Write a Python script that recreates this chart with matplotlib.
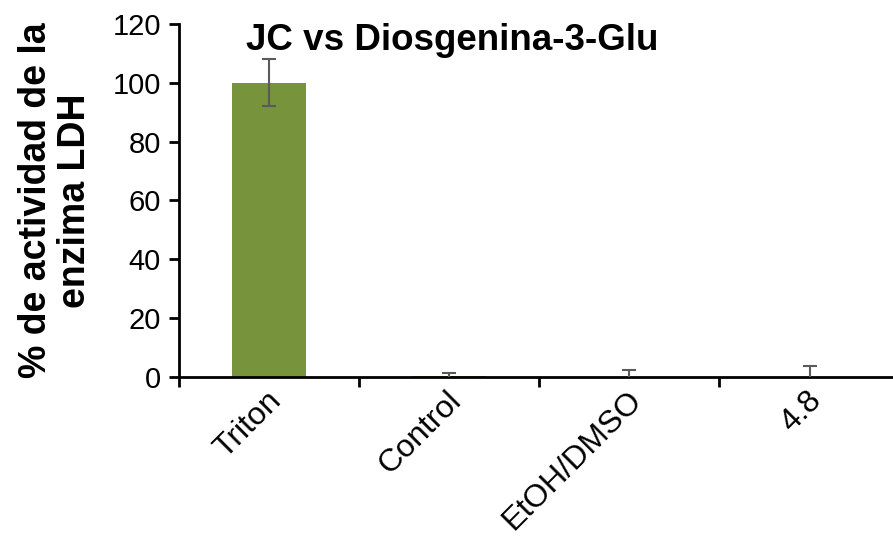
"""LDH activity bar chart: JC vs Diosgenina-3-Glu."""

import matplotlib

matplotlib.use("Agg")
import matplotlib.pyplot as plt  # noqa: E402
import matplotlib.transforms as mtransforms  # noqa: E402
import numpy as np  # noqa: E402

categories = ["Triton", "Control", "EtOH/DMSO", "4.8"]
values = [100.0, 0.2, 0.1, 0.1]
errors = [8.0, 1.2, 2.4, 3.6]

plt.rcParams["font.family"] = ["Liberation Sans", "DejaVu Sans"]

fig = plt.figure(figsize=(8.93, 5.44), dpi=100)
ax = fig.add_axes([0.2004, 0.307, 0.807, 0.649])

x = np.arange(len(categories))
ax.bar(x, values, width=0.41, color="#77933c", zorder=2)
ax.errorbar(x, values, yerr=errors, fmt="none", ecolor="#5a5a5a",
            elinewidth=1.5, capsize=5, capthick=1.5, zorder=3)

ax.set_xlim(-0.5, len(categories) - 0.5)
ax.set_ylim(0, 120)
ax.set_yticks(np.arange(0, 121, 20))
ax.tick_params(axis="y", labelsize=21, width=2, length=7, direction="out", pad=6)

ax.set_xticks(np.arange(len(categories)) - 0.5, minor=False)
ax.set_xticklabels([])
ax.set_xticks(x, minor=True)
ax.set_xticklabels(categories, minor=True, rotation=45, ha="right",
                   rotation_mode="anchor", fontsize=23)
ax.tick_params(axis="x", which="major", width=2, length=7)
ax.tick_params(axis="x", which="minor", length=0, pad=6)
shift = mtransforms.ScaledTranslation(-3 / 100, 0, fig.dpi_scale_trans)
for lab in ax.get_xticklabels(minor=True):
    lab.set_transform(lab.get_transform() + shift)

for side in ("top", "right"):
    ax.spines[side].set_visible(False)
for side in ("left", "bottom"):
    ax.spines[side].set_linewidth(2)

ax.set_ylabel("% de actividad de la\nenzima LDH", fontsize=27,
              fontweight="bold", labelpad=14, linespacing=1.1)
fig.text(0.506, 0.925, "JC vs Diosgenina-3-Glu", fontsize=26.5,
         fontweight="bold", ha="center", va="center")

fig.savefig("out.png", dpi=100)
